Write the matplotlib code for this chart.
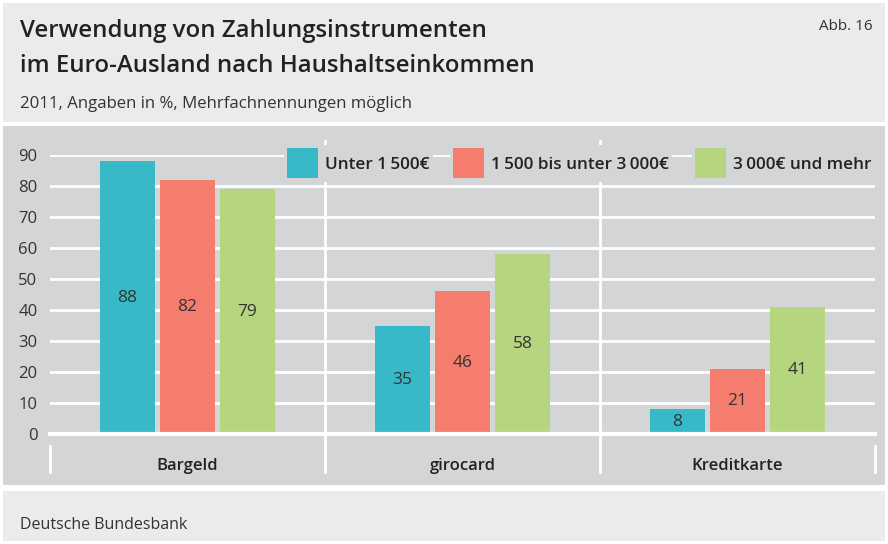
import matplotlib
matplotlib.use("Agg")
import matplotlib.pyplot as plt
from matplotlib.patches import Rectangle, Patch
import numpy as np

plt.rcParams['font.family'] = ['Open Sans', 'DejaVu Sans']

categories = ["Bargeld", "girocard", "Kreditkarte"]
series_names = ["Unter 1\u2009500€", "1\u2009500 bis unter 3\u2009000€", "3\u2009000€ und mehr"]
values = [
    [88, 35, 8],
    [82, 46, 21],
    [79, 58, 41],
]
yticks = [0, 10, 20, 30, 40, 50, 60, 70, 80, 90]
colors = ["#38b9c8", "#f47d6d", "#b5d67f"]

W, H = 888, 544
fig = plt.figure(figsize=(W / 100, H / 100), dpi=100)
fig.patch.set_facecolor("white")

def fx(px):
    return px / W

def fy(py):
    return 1 - py / H

# panels
for (top, bot, col) in [(3, 122, "#ebebed"), (126, 485, "#d4d5d7"), (491, 541, "#ebebed")]:
    fig.add_artist(Rectangle((fx(3), fy(bot)), fx(882), (bot - top) / H, transform=fig.transFigure,
                             facecolor=col, edgecolor="none", zorder=-10))

# texts
fig.text(fx(20), fy(37), "Verwendung von Zahlungsinstrumenten", fontsize=17.3, fontweight="semibold",
         color="#222222", va="baseline", ha="left")
fig.text(fx(20), fy(72), "im Euro-Ausland nach Haushaltseinkommen", fontsize=17.3, fontweight="semibold",
         color="#222222", va="baseline", ha="left")
fig.text(fx(873), fy(30), "Abb. 16", fontsize=11, color="#333333", va="baseline", ha="right")
fig.text(fx(20), fy(108), "2011, Angaben in %, Mehrfachnennungen möglich", fontsize=12.1,
         color="#333333", va="baseline", ha="left")
fig.text(fx(20), fy(529), "Deutsche Bundesbank", fontsize=11.5, color="#333333", va="baseline", ha="left")

# axes
ax = fig.add_axes([fx(50), fy(434), fx(825), (434 - 155) / H])
ax.set_facecolor("none")
ax.set_xlim(-0.5, 2.5)
ax.set_ylim(0, 90)
for s in ax.spines.values():
    s.set_visible(False)

x = np.arange(len(categories))
width = 0.2
offset = 0.218
for i, (name, vals, c) in enumerate(zip(series_names, values, colors)):
    pos = x + (i - 1) * offset
    ax.bar(pos, vals, width=width, color=c, label=name, zorder=3)
    for p, v in zip(pos, vals):
        ax.text(p, v / 2, str(v), ha="center", va="center", fontsize=12.5, color="#333333", zorder=4)

ax.set_yticks(yticks)
ax.set_yticklabels([str(t) for t in yticks], fontsize=12, color="#333333")
ax.tick_params(axis="y", length=0, pad=9)
ax.set_xticks([])
for t in yticks:
    if t == 0:
        continue
    ax.axhline(t, color="white", lw=2, zorder=1)
ax.axhline(0, color="white", lw=3, zorder=5, clip_on=False)

# separators
for xs in [-0.5, 2.5]:
    ax.plot([xs, xs], [-3.8, -12.4], color="white", lw=2, clip_on=False, zorder=2)
for xs in [0.5, 1.5]:
    ax.plot([xs, xs], [-12.4, 94.5], color="white", lw=2, clip_on=False, zorder=2)

for xi, cat in zip(x, categories):
    ax.text(xi, -10.3, cat, ha="center", va="center", fontsize=12, fontweight="semibold",
            color="#222222", clip_on=False)

# legend: one box per item so gridlines show in between
legend_left_px = [284, 450, 692]
for name, c, lx in zip(series_names, colors, legend_left_px):
    leg = ax.legend(handles=[Patch(facecolor=c, edgecolor="none", label=name)],
                    loc="upper left", bbox_to_anchor=(fx(lx), fy(145)), bbox_transform=fig.transFigure,
                    frameon=True, fontsize=12.3, handlelength=1.8, handleheight=2.32,
                    handletextpad=0.4, borderpad=0.2, borderaxespad=0, fancybox=False)
    leg.get_frame().set_facecolor("#d4d5d7")
    leg.get_frame().set_edgecolor("none")
    leg.get_frame().set_alpha(1)
    leg.set_zorder(6)
    for t in leg.get_texts():
        t.set_fontweight("semibold")
        t.set_color("#222222")
    ax.add_artist(leg)

fig.savefig("out.png", dpi=100)
